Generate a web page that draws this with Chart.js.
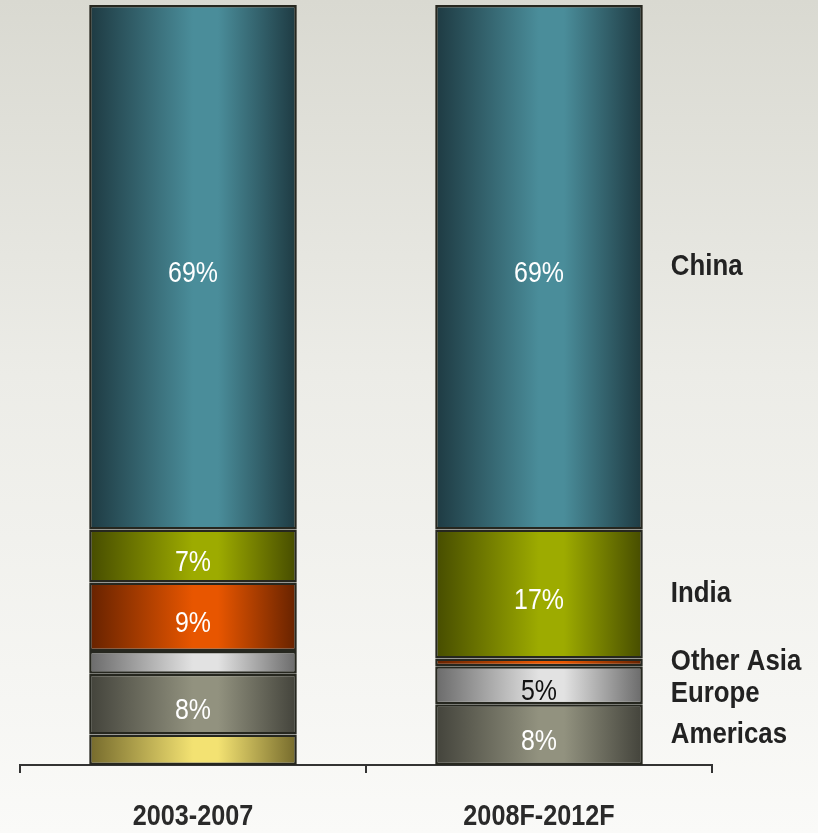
<!DOCTYPE html>
<html>
<head>
<meta charset="utf-8">
<script src="https://cdn.jsdelivr.net/npm/chart.js@4/dist/chart.umd.min.js"></script>
<style>
  html, body { margin: 0; padding: 0; }
  body { width: 818px; height: 833px; background: linear-gradient(180deg, #d9d9d1 0%, #ececE7 45%, #fafaf8 100%); overflow: hidden; }
  canvas { display: block; }
</style>
</head>
<body>
<canvas id="c" width="818" height="833"></canvas>
<script>
// ---- data ----
const categories = ['2003-2007', '2008F-2012F'];
const seriesNames = ['Other', 'Americas', 'Europe', 'Other Asia', 'India', 'China'];
const otherValues     = [4, 0];
const americasValues  = [8, 8];
const europeValues    = [3, 5];
const otherAsiaValues = [9, 1];
const indiaValues     = [7, 17];
const chinaValues     = [69, 69];

const BAR_FRACTION = 0.6;
const FONT = '"Liberation Sans", Arial, sans-serif';

function grad(edge, mid) {
  return (ctx) => {
    const chart = ctx.chart;
    const xs = chart.scales && chart.scales.x;
    if (!xs || ctx.type !== 'data') return mid;
    const cx = xs.getPixelForValue(ctx.dataIndex);
    const w = (xs.width / categories.length) * BAR_FRACTION;
    if (!isFinite(cx) || !isFinite(w) || w <= 0) return mid;
    const g = chart.ctx.createLinearGradient(cx - w / 2, 0, cx + w / 2, 0);
    g.addColorStop(0, edge);
    g.addColorStop(0.5, mid);
    g.addColorStop(0.62, mid);
    g.addColorStop(1, edge);
    return g;
  };
}

const styles = [
  { edge: '#756a2c', mid: '#f3e272', text: '#ffffff' },
  { edge: '#43433b', mid: '#92927f', text: '#ffffff' },
  { edge: '#6a6a6a', mid: '#e2e2e2', text: '#111111' },
  { edge: '#662200', mid: '#e85600', text: '#ffffff' },
  { edge: '#464c00', mid: '#9dab00', text: '#ffffff' },
  { edge: '#1e3a42', mid: '#4a8d9a', text: '#ffffff' }
];

const valueSets = [otherValues, americasValues, europeValues, otherAsiaValues, indiaValues, chinaValues];

const datasets = valueSets.map((vals, i) => ({
  label: seriesNames[i],
  data: vals,
  backgroundColor: grad(styles[i].edge, styles[i].mid),
  borderColor: '#26271f',
  borderWidth: 2.5,
  borderSkipped: false,
  textColor: styles[i].text,
  categoryPercentage: BAR_FRACTION,
  barPercentage: 1.0
}));

function drawText(ctx, text, x, y, align, font, sx) {
  ctx.save();
  ctx.font = font;
  ctx.textAlign = align;
  ctx.textBaseline = 'middle';
  ctx.translate(x, y);
  ctx.scale(sx, 1);
  ctx.fillText(text, 0, 0);
  ctx.restore();
}

const labelsPlugin = {
  id: 'labels',
  afterDatasetsDraw(chart) {
    const ctx = chart.ctx;
    // value labels inside bars
    chart.data.datasets.forEach((ds, di) => {
      const meta = chart.getDatasetMeta(di);
      meta.data.forEach((el, i) => {
        const v = ds.data[i];
        if (v < 5) return;
        ctx.fillStyle = ds.textColor;
        drawText(ctx, v + '%', el.x, (el.y + el.base) / 2 + 7, 'center', '29px ' + FONT, 0.86);
      });
    });
    // series names to the right of the last bar
    const last = categories.length - 1;
    const items = [];
    chart.data.datasets.forEach((ds, di) => {
      if (!(ds.data[last] > 0)) return;
      const el = chart.getDatasetMeta(di).data[last];
      items.push({ text: ds.label, y: (el.y + el.base) / 2, right: el.x + el.width / 2 });
    });
    items.sort((a, b) => a.y - b.y);
    for (let k = 1; k < items.length; k++) {
      if (items[k].y < items[k - 1].y + 32) items[k].y = items[k - 1].y + 32;
    }
    ctx.fillStyle = '#222222';
    items.forEach(it => drawText(ctx, it.text, it.right + 28, it.y, 'left', 'bold 29px ' + FONT, 0.89));
    // category labels
    const xs = chart.scales.x;
    ctx.fillStyle = '#2a2a2a';
    categories.forEach((c, i) => {
      drawText(ctx, c, xs.getPixelForValue(i), chart.chartArea.bottom + 52, 'center', 'bold 30px ' + FONT, 0.84);
    });
  }
};

new Chart(document.getElementById('c'), {
  type: 'bar',
  data: { labels: categories, datasets },
  options: {
    responsive: false,
    animation: false,
    layout: { padding: { left: 20, right: 106, top: 5, bottom: 60 } },
    plugins: { legend: { display: false }, tooltip: { enabled: false } },
    scales: {
      x: {
        stacked: true,
        offset: true,
        grid: { display: true, offset: true, drawOnChartArea: false, drawTicks: true, tickLength: 8, color: '#333333', lineWidth: 2 },
        border: { display: true, color: '#333333', width: 2 },
        ticks: { display: false }
      },
      y: { stacked: true, min: 0, max: 100, display: false }
    }
  },
  plugins: [labelsPlugin]
});
</script>
</body>
</html>
